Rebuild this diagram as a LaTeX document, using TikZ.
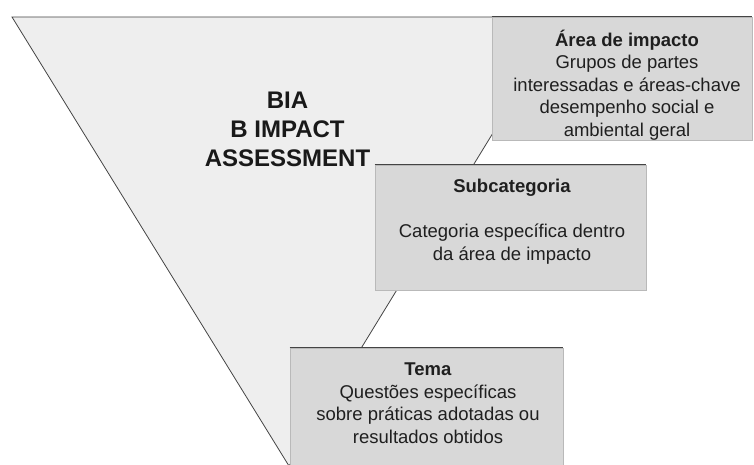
\documentclass[tikz,border=0pt]{standalone}
\usepackage{fontspec}
\setmainfont{Liberation Sans}
\usetikzlibrary{positioning}
\definecolor{funnelgray}{HTML}{EEEEEE}
\definecolor{boxgray}{HTML}{D8D8D8}
\definecolor{edgegray}{HTML}{444444}
\begin{document}
\begin{tikzpicture}[x=1pt,y=-1pt,
    box/.style={fill=boxgray,draw=gray!55,line width=0.8pt,inner sep=0pt},
    boxtext/.style={align=center,inner sep=0pt,text=black!88,
        font=\fontsize{18.5}{22.5}\selectfont},
    ]
    \useasboundingbox (0,0) rectangle (754,465);
    % Define the corners of the funnel
    \coordinate (tl) at (12,17);
    \coordinate (tr) at (564,17);
    \coordinate (tip) at (289,466);

    \fill[funnelgray] (tl) -- (tr) -- (tip) -- cycle;
    \draw[edgegray,line width=0.8pt] (tip) -- (tl) -- (tr) -- (tip);

    \node[font=\bfseries\fontsize{24}{29}\selectfont,align=center,inner sep=0pt,text=black!90]
        (bia) at (287.5,129.5) {BIA\\B IMPACT\\ASSESSMENT};

    % the three boxes
    \node[box,minimum width=260,minimum height=123] (areabox) at (622,78.5) {};
    \node[box,minimum width=271,minimum height=125] (subbox) at (510.5,227.5) {};
    \node[box,minimum width=273,minimum height=124] (temabox) at (426.5,410) {};
    \foreach \b in {areabox,subbox,temabox}
        \draw[edgegray,line width=0.9pt] (\b.north west) -- (\b.north east);

    \node[boxtext] (area) at (627,85)
        {\textbf{Área de impacto}\\Grupos de partes\\interessadas e áreas-chave\\desempenho social e\\ambiental geral};
    \node[boxtext] (sub) at (512,221.5)
        {\textbf{Subcategoria}\\[22.5pt]Categoria específica dentro\\da área de impacto};
    \node[boxtext] (tema) at (428,403)
        {\textbf{Tema}\\Questões específicas\\sobre práticas adotadas ou\\resultados obtidos};
\end{tikzpicture}
\end{document}
